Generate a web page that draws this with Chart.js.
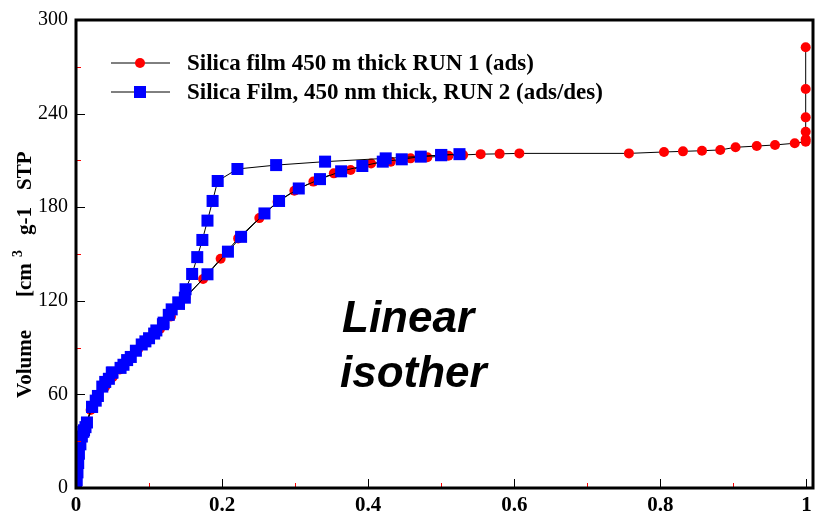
<!DOCTYPE html>
<html>
<head>
<meta charset="utf-8">
<script src="https://cdn.jsdelivr.net/npm/chart.js@4.4.0/dist/chart.umd.min.js"></script>
<style>
    html, body { margin: 0; padding: 0; background: #fff; }
    canvas { display: block; }
</style>
</head>
<body>
<canvas id="isotherm" width="816" height="516"></canvas>
<script>
// Run 1 - adsorption only (red circles)
const run1P = [0, 0.001, 0.002, 0.004, 0.006, 0.009, 0.013, 0.02, 0.03, 0.04, 0.05, 0.06, 0.07, 0.085,
    0.1, 0.115, 0.13, 0.15, 0.174, 0.198, 0.222, 0.251, 0.276, 0.299, 0.325, 0.353, 0.376, 0.404,
    0.431, 0.458, 0.481, 0.51, 0.53, 0.554, 0.58, 0.607, 0.757, 0.805, 0.831, 0.857, 0.882, 0.903,
    0.932, 0.957, 0.984, 0.999, 0.999, 0.999, 0.999, 0.999, 0.999];
const run1V = [0, 6, 12, 20, 27, 34, 40, 50, 58, 65, 71, 76, 82, 89,
    95, 102, 110, 122, 134, 147, 160, 173, 183.5, 190.6, 196.4, 201.7, 203.8, 208,
    209.2, 211.3, 212, 213, 213.5, 214, 214.2, 214.5, 214.5, 215.4, 215.8, 216.2, 216.7, 218.4,
    219.2, 219.9, 221, 222, 223.5, 228.4, 237.6, 255.8, 282.5];

// Run 2 - adsorption then desorption (blue squares)
const run2P = [0, 0.001, 0.002, 0.003, 0.004, 0.006, 0.008, 0.011, 0.013, 0.022, 0.027, 0.036, 0.045,
    0.049, 0.061, 0.07, 0.082, 0.095, 0.107, 0.119, 0.127, 0.141, 0.149, 0.18, 0.208, 0.226, 0.258,
    0.278, 0.305, 0.334, 0.363, 0.392, 0.42, 0.446, 0.472, 0.5, 0.525,
    0.5, 0.424, 0.341, 0.274, 0.221, 0.194, 0.187, 0.18, 0.173, 0.166, 0.159, 0.15, 0.14, 0.131,
    0.12, 0.11, 0.1, 0.09, 0.075, 0.065, 0.05, 0.04, 0.03, 0.022, 0.015, 0.01];
const run2V = [0, 5, 10, 16, 22, 28, 33, 37, 39, 52, 56, 65, 70,
    74, 77, 82, 88, 94, 99, 105, 111, 118, 122, 137, 151.5, 161, 176,
    184, 192, 198, 203, 206.4, 209.2, 210.7, 212.4, 213.5, 214,
    213.3, 211.3, 209.2, 207, 204.5, 196.8, 184, 171.4, 159, 148, 137.2, 127.4, 119, 114.5,
    106, 101, 96, 92, 84, 79, 74, 68, 59, 52, 42, 36];

const xTicks = [0, 0.2, 0.4, 0.6, 0.8, 1];
const yTicks = [0, 60, 120, 180, 240, 300];
const xMinor = [0.1, 0.3, 0.5, 0.7, 0.9];
const yMinor = [30, 90, 150, 210, 270];

const legendLabels = ['Silica film 450 m thick RUN 1 (ads)', 'Silica Film, 450 nm thick, RUN 2 (ads/des)'];
const noteLines = ['Linear', 'isother'];

const serif = "'Liberation Serif', 'Times New Roman', serif";

function toPoints(xs, ys) {
    return xs.map((x, i) => ({ x: x, y: ys[i] }));
}

// frame, inward ticks, legend, rotated y title and the note
const decorations = {
    id: 'decorations',
    afterDatasetsDraw(chart) {
        const ctx = chart.ctx;
        const area = chart.chartArea;
        const xs = chart.scales.x;
        const ys = chart.scales.y;
        ctx.save();

        // ticks pointing into the plot
        ctx.lineWidth = 1;
        ctx.strokeStyle = '#000';
        xTicks.forEach(v => {
            const px = Math.round(xs.getPixelForValue(v)) + 0.5;
            ctx.beginPath(); ctx.moveTo(px, area.bottom); ctx.lineTo(px, area.bottom - 9); ctx.stroke();
        });
        yTicks.forEach(v => {
            const py = Math.round(ys.getPixelForValue(v)) + 0.5;
            ctx.beginPath(); ctx.moveTo(area.left, py); ctx.lineTo(area.left + 9, py); ctx.stroke();
        });
        ctx.strokeStyle = '#ff0000';
        xMinor.forEach(v => {
            const px = Math.round(xs.getPixelForValue(v)) + 0.5;
            ctx.beginPath(); ctx.moveTo(px, area.bottom); ctx.lineTo(px, area.bottom - 5); ctx.stroke();
        });
        yMinor.forEach(v => {
            const py = Math.round(ys.getPixelForValue(v)) + 0.5;
            ctx.beginPath(); ctx.moveTo(area.left, py); ctx.lineTo(area.left + 5, py); ctx.stroke();
        });

        // thick frame
        ctx.strokeStyle = '#000';
        ctx.lineWidth = 3;
        ctx.strokeRect(area.left, area.top, area.right - area.left, area.bottom - area.top);

        // legend
        chart.data.datasets.forEach((ds, i) => {
            const y = 63 + i * 29;
            ctx.lineWidth = 1;
            ctx.strokeStyle = '#000';
            ctx.beginPath(); ctx.moveTo(111, y); ctx.lineTo(170, y); ctx.stroke();
            ctx.fillStyle = ds.pointBackgroundColor;
            ctx.beginPath();
            if (ds.pointStyle === 'rect') {
                ctx.rect(140 - 6, y - 6, 12, 12);
            } else {
                ctx.arc(140, y, 5, 0, Math.PI * 2);
            }
            ctx.fill();
            ctx.fillStyle = '#000';
            ctx.font = 'bold 23px ' + serif;
            ctx.textAlign = 'left';
            ctx.textBaseline = 'middle';
            ctx.fillText(legendLabels[ds.legendIndex], 187, y + 1);
        });

        // y axis title, pieces spaced as in the original
        ctx.translate(31, 398);
        ctx.rotate(-Math.PI / 2);
        ctx.fillStyle = '#000';
        ctx.textAlign = 'left';
        ctx.textBaseline = 'alphabetic';
        ctx.font = 'bold 21px ' + serif;
        ctx.fillText('Volume', 0, 0);
        ctx.fillText('[cm', 101, 0);
        ctx.font = 'bold 14px ' + serif;
        ctx.fillText('3', 141, -9);
        ctx.font = 'bold 21px ' + serif;
        ctx.fillText('g-1', 163, 0);
        ctx.fillText('STP', 208, 0);
        ctx.restore();

        // note in the plot
        ctx.save();
        ctx.fillStyle = '#000';
        ctx.font = "italic bold 44px 'Liberation Sans', Arial, sans-serif";
        ctx.textAlign = 'left';
        ctx.textBaseline = 'alphabetic';
        ctx.fillText(noteLines[0], 342, 332);
        ctx.fillText(noteLines[1], 340, 387);
        ctx.restore();
    }
};

function initChart() {
    const canvas = document.getElementById('isotherm');

    new Chart(canvas, {
        type: 'scatter',
        data: {
            datasets: [
                {
                    label: legendLabels[0],
                    legendIndex: 0,
                    data: toPoints(run1P, run1V),
                    showLine: true,
                    borderColor: '#000',
                    borderWidth: 1,
                    tension: 0,
                    pointStyle: 'circle',
                    pointRadius: 5,
                    pointBorderWidth: 0,
                    pointBackgroundColor: '#ff0000',
                    pointBorderColor: '#ff0000',
                    order: 2
                },
                {
                    label: legendLabels[1],
                    legendIndex: 1,
                    data: toPoints(run2P, run2V),
                    showLine: true,
                    borderColor: '#000',
                    borderWidth: 1,
                    tension: 0,
                    pointStyle: 'rect',
                    pointRadius: 8.5,
                    pointBorderWidth: 0,
                    pointBackgroundColor: '#0000ff',
                    pointBorderColor: '#0000ff',
                    order: 1
                }
            ]
        },
        options: {
            responsive: false,
            animation: false,
            layout: {
                autoPadding: false,
                padding: { left: 0, right: 3, top: 20, bottom: 0 }
            },
            scales: {
                x: {
                    type: 'linear',
                    min: 0,
                    max: 1.009,
                    afterBuildTicks: s => { s.ticks = xTicks.map(v => ({ value: v })); },
                    afterFit: s => { s.height = 28; s.paddingLeft = 0; s.paddingRight = 0; },
                    grid: { display: false, drawTicks: false },
                    border: { display: false },
                    ticks: {
                        padding: 5,
                        color: '#000',
                        font: { family: serif, size: 21, weight: 'bold' },
                        callback: v => String(v)
                    }
                },
                y: {
                    type: 'linear',
                    min: 0,
                    max: 300,
                    afterBuildTicks: s => { s.ticks = yTicks.map(v => ({ value: v })); },
                    afterFit: s => { s.width = 76; s.paddingTop = 0; s.paddingBottom = 0; },
                    grid: { display: false, drawTicks: false },
                    border: { display: false },
                    ticks: {
                        padding: 8,
                        color: '#000',
                        font: { family: serif, size: 20 },
                        callback: v => String(v)
                    }
                }
            },
            plugins: {
                legend: { display: false },
                tooltip: { enabled: false }
            }
        },
        plugins: [decorations]
    });
}

document.addEventListener('DOMContentLoaded', initChart);
</script>
</body>
</html>
